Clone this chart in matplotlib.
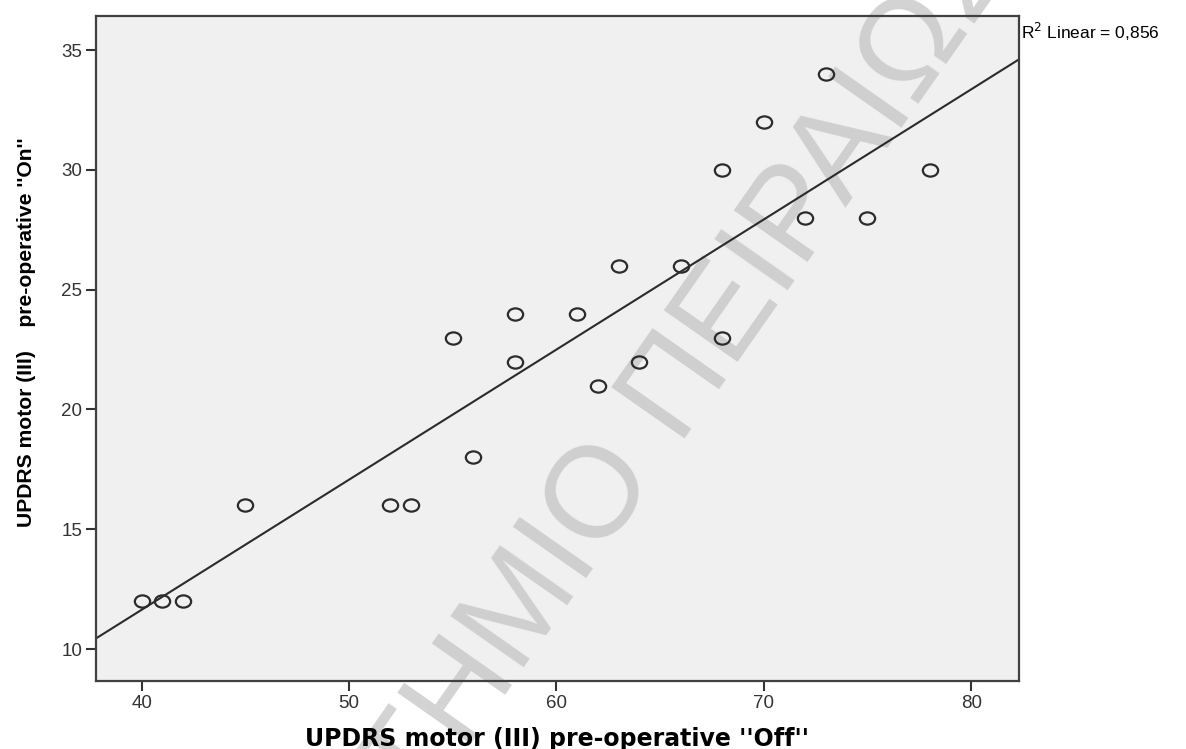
import numpy as np
import matplotlib
matplotlib.use("Agg")
from matplotlib import pyplot as plt
from matplotlib.path import Path

# UPDRS motor (III) scores, pre-operative "Off" vs "On"
off_scores = [40, 41, 42, 45, 52, 53, 55, 56, 58, 58, 61,
              62, 63, 64, 66, 68, 68, 70, 72, 73, 75, 78]
on_scores = [12, 12, 12, 16, 16, 16, 23, 18, 24, 22, 24,
             21, 26, 22, 26, 30, 23, 32, 28, 34, 28, 30]
x_ticks = [40, 50, 60, 70, 80]
y_ticks = [10, 15, 20, 25, 30, 35]
r2_label = "R$^2$ Linear = 0,856"
watermark = "ΠΑΝΕΠΙΣΤΗΜΙΟ ΠΕΙΡΑΙΩΣ"

plt.rcParams['font.family'] = ['Liberation Sans', 'DejaVu Sans']

fig = plt.figure(figsize=(11.86, 7.49), dpi=100)
ax = fig.add_axes([0.0809, 0.0908, 0.7782, 0.8878])
ax.set_facecolor('#f0f0f0')

xlim = (37.8, 82.3)
ylim = (8.67, 36.42)

# watermark behind the data
ax.text(0.445, 0.194, watermark, transform=fig.transFigure, rotation=55,
        rotation_mode='anchor', ha='center', va='center', fontsize=93,
        color='#c4c4c4', alpha=0.75, zorder=1, clip_on=False)

# linear fit
slope, intercept = np.polyfit(off_scores, on_scores, 1)
xs = np.array(xlim)
ax.plot(xs, slope * xs + intercept, color='#2b2b2b', lw=1.5, zorder=2)

# slightly wide open circles, as in the original export
circ = Path.unit_circle()
ellipse = Path(circ.vertices * [1.25, 1.0], circ.codes)
ax.plot(off_scores, on_scores, linestyle='none', marker=ellipse, ms=11,
        mfc='none', mec='#2b2b2b', mew=1.6, zorder=3, clip_on=False)

ax.set_xlim(*xlim)
ax.set_ylim(*ylim)
ax.set_xticks(x_ticks)
ax.set_yticks(y_ticks)
ax.tick_params(direction='out', length=7, width=1.5, color='#333333',
               labelsize=13.5, labelcolor='#333333', pad=3)
for s in ax.spines.values():
    s.set_color('#404040')
    s.set_linewidth(1.6)
    s.set_zorder(2.5)

fig.text(0.4697, 0.004, "UPDRS motor (III) pre-operative ''Off''",
         family='DejaVu Sans', fontweight='bold', fontsize=17,
         ha='center', va='baseline')
fig.text(0.022, 0.557, "UPDRS motor (III)    pre-operative ''On''",
         fontweight='bold', fontsize=15.2, rotation=90,
         ha='center', va='center')
fig.text(0.8608, 0.958, r2_label, fontsize=12.5, ha='left', va='center')

fig.savefig('out.png', dpi=100)
